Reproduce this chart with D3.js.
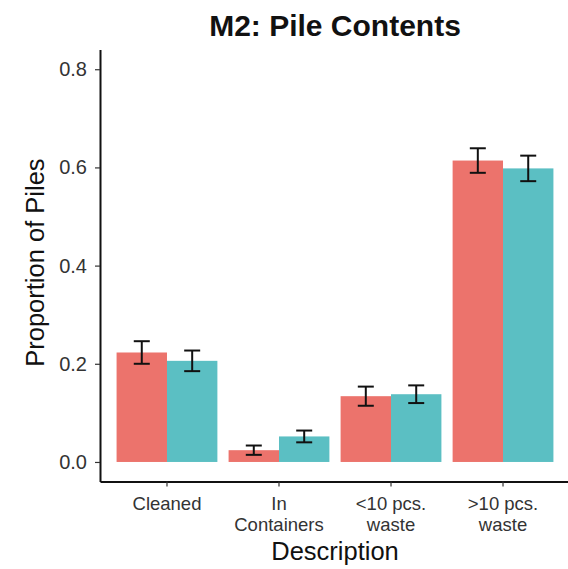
<!DOCTYPE html>
<html>
<head>
<meta charset="utf-8">
<script src="https://cdn.jsdelivr.net/npm/d3@7"></script>
<style>
  html, body { margin: 0; padding: 0; background: #fff; }
  svg { display: block; font-family: "Liberation Sans", Arial, Helvetica, sans-serif; }
</style>
</head>
<body>
<svg id="chart" width="568" height="569"></svg>
<script>
// ---- data ----
const categories = ["Cleaned", "In\nContainers", "<10 pcs.\nwaste", ">10 pcs.\nwaste"];
const seriesNames = ["Group 1", "Group 2"];
const series1Values = [0.223, 0.024, 0.134, 0.614];
const series1Errors = [0.023, 0.0095, 0.0195, 0.025];
const series2Values = [0.206, 0.052, 0.138, 0.598];
const series2Errors = [0.021, 0.012, 0.018, 0.026];
const yTicks = [0.0, 0.2, 0.4, 0.6, 0.8];
const titleText = "M2: Pile Contents";
const xTitle = "Description";
const yTitle = "Proportion of Piles";
const colors = ["#EC736C", "#5BBFC3"];

// ---- build table ----
const valuesBySeries = [series1Values, series2Values];
const errorsBySeries = [series1Errors, series2Errors];
const rows = [];
categories.forEach((c, i) => {
  seriesNames.forEach((s, j) => {
    rows.push({ cat: c, series: s, value: valuesBySeries[j][i], err: errorsBySeries[j][i], color: colors[j] });
  });
});

const svg = d3.select("#chart");
const pLeft = 100, pRight = 570, pTop = 49.6, pBottom = 481.6;

const x = d3.scaleBand().domain(categories).range([pLeft, pRight]).paddingInner(0.1).paddingOuter(0.148);
const x1 = d3.scaleBand().domain(seriesNames).range([0, x.bandwidth()]);
const y = d3.scaleLinear().domain([-0.04, 0.84]).range([pBottom, pTop]);

// bars
svg.append("g").selectAll("rect").data(rows).join("rect")
  .attr("x", d => x(d.cat) + x1(d.series))
  .attr("width", x1.bandwidth())
  .attr("y", d => y(d.value))
  .attr("height", d => y(0) - y(d.value))
  .attr("fill", d => d.color);

// error bars
const capW = 16;
const eg = svg.append("g").attr("stroke", "#111").attr("stroke-width", 2).attr("fill", "none");
rows.forEach(d => {
  const cx = x(d.cat) + x1(d.series) + x1.bandwidth() / 2;
  const y1 = y(d.value + d.err), y2 = y(d.value - d.err);
  eg.append("line").attr("x1", cx).attr("x2", cx).attr("y1", y1).attr("y2", y2);
  eg.append("line").attr("x1", cx - capW / 2).attr("x2", cx + capW / 2).attr("y1", y1).attr("y2", y1);
  eg.append("line").attr("x1", cx - capW / 2).attr("x2", cx + capW / 2).attr("y1", y2).attr("y2", y2);
});

// y axis
const yAxis = svg.append("g").attr("transform", `translate(${pLeft},0)`)
  .call(d3.axisLeft(y).tickValues(yTicks).tickFormat(d3.format(".1f")).tickSize(5).tickSizeOuter(0).tickPadding(8));
yAxis.select(".domain").attr("stroke", "#111").attr("stroke-width", 2);
yAxis.selectAll(".tick line").attr("stroke", "#333").attr("stroke-width", 1.2);
yAxis.selectAll(".tick text").attr("font-size", 20).attr("fill", "#333").attr("font-family", null);

// x axis
const xAxis = svg.append("g").attr("transform", `translate(0,${pBottom})`)
  .call(d3.axisBottom(x).tickSize(5).tickSizeOuter(0).tickPadding(6));
xAxis.select(".domain").attr("stroke", "#111").attr("stroke-width", 2);
xAxis.selectAll(".tick line").attr("stroke", "#333").attr("stroke-width", 1.2);
xAxis.selectAll(".tick text").each(function(d) {
  const t = d3.select(this);
  t.text(null).attr("font-size", 18.5).attr("fill", "#333").attr("font-family", null).attr("dy", null).attr("y", 0);
  d.split("\n").forEach((line, k) => {
    t.append("tspan").attr("x", 0).attr("y", 28 + k * 21).text(line);
  });
});

// titles
svg.append("text").attr("x", (pLeft + pRight) / 2).attr("y", 36)
  .attr("text-anchor", "middle").attr("font-weight", "bold").attr("font-size", 30).attr("fill", "#111")
  .text(titleText);
svg.append("text").attr("x", (pLeft + pRight) / 2).attr("y", 560)
  .attr("text-anchor", "middle").attr("font-size", 25.5).attr("fill", "#111")
  .text(xTitle);
svg.append("text").attr("transform", `translate(44,${(pTop + pBottom) / 2 - 3}) rotate(-90)`)
  .attr("text-anchor", "middle").attr("font-size", 25.5).attr("fill", "#111")
  .text(yTitle);
</script>
</body>
</html>
